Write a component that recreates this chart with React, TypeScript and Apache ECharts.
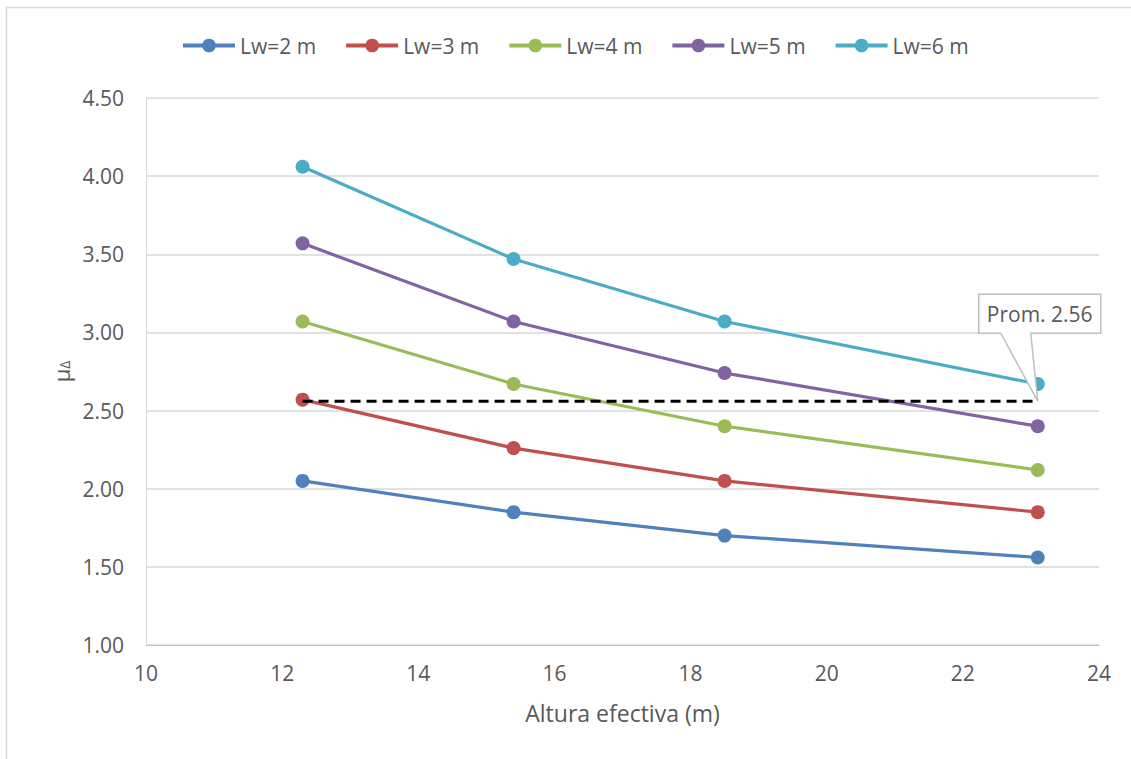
import React, { useEffect, useRef } from "react";
import * as echarts from "echarts";

const xValues = [12.3, 15.4, 18.5, 23.1];
const seriesNames = ["Lw=2 m", "Lw=3 m", "Lw=4 m", "Lw=5 m", "Lw=6 m"];
const lw2 = [2.05, 1.85, 1.7, 1.56];
const lw3 = [2.57, 2.26, 2.05, 1.85];
const lw4 = [3.07, 2.67, 2.4, 2.12];
const lw5 = [3.57, 3.07, 2.74, 2.4];
const lw6 = [4.06, 3.47, 3.07, 2.67];
const seriesValues = [lw2, lw3, lw4, lw5, lw6];
const colors = ["#4f81bd", "#c0504d", "#9bbb59", "#8064a2", "#4bacc6"];
const average = 2.56;
const averageLabel = "Prom. 2.56";
const xAxisName = "Altura efectiva (m)";

const FONT = "'Open Sans', sans-serif";
const TEXT = "#595959";

export default function App() {
  const ref = useRef<HTMLDivElement>(null);
  useEffect(() => {
    document.body.style.margin = "0";
    const chart = echarts.init(ref.current!, null, { renderer: "svg" });
    const series: any[] = seriesValues.map((vals, i) => ({
      name: seriesNames[i],
      type: "line",
      data: xValues.map((x, j) => [x, vals[j]]),
      symbol: "circle",
      symbolSize: 14,
      color: colors[i],
      lineStyle: { width: 3.2, color: colors[i] },
      itemStyle: { color: colors[i] },
      z: 2,
    }));
    series.push({
      name: "Prom",
      type: "line",
      data: [
        [xValues[0], average],
        [xValues[xValues.length - 1], average],
      ],
      symbol: "none",
      lineStyle: { width: 3, color: "#000", type: [10, 6] },
      z: 3,
    });
    const border = {
      type: "rect",
      shape: { x: 6.5, y: 7.5, width: 1200, height: 800 },
      style: { fill: "none", stroke: "#d9d9d9", lineWidth: 1.5 },
      silent: true,
      z: -10,
    };
    chart.setOption({
      animation: false,
      textStyle: { fontFamily: FONT },
      grid: { left: 146, right: 32, top: 98, bottom: 114 },
      legend: {
        top: 30,
        left: 176,
        data: seriesNames,
        itemWidth: 52,
        itemHeight: 17,
        itemGap: 28,
        lineStyle: { width: 4 },
        textStyle: { fontSize: 21, color: TEXT, fontFamily: FONT },
      },
      xAxis: {
        type: "value",
        min: 10,
        max: 24,
        interval: 2,
        name: xAxisName,
        nameLocation: "middle",
        nameGap: 56,
        nameTextStyle: { fontSize: 23, color: TEXT, fontFamily: FONT },
        axisLine: { show: true, lineStyle: { color: "#bfbfbf", width: 1 } },
        axisTick: { show: false },
        axisLabel: { fontSize: 21, color: TEXT, margin: 17, fontFamily: FONT },
        splitLine: { show: false },
      },
      yAxis: {
        type: "value",
        min: 1,
        max: 4.5,
        interval: 0.5,
        name: "{m|μ}{s|Δ}",
        nameLocation: "middle",
        nameRotate: 90,
        nameGap: 72,
        nameTextStyle: {
          fontSize: 22,
          color: TEXT,
          fontFamily: FONT,
          rich: {
            m: { fontSize: 22, color: TEXT, fontFamily: FONT },
            s: { fontSize: 14, color: TEXT, fontFamily: FONT, verticalAlign: "bottom", padding: [7, 0, 0, 0] },
          },
        },
        axisLine: { show: true, lineStyle: { color: "#d9d9d9", width: 1 } },
        axisTick: { show: false },
        axisLabel: {
          fontSize: 21,
          color: TEXT,
          margin: 22,
          fontFamily: FONT,
          formatter: (v: number) => v.toFixed(2),
        },
        splitLine: { show: true, lineStyle: { color: "#d9d9d9", width: 1.5 } },
      },
      series,
      graphic: [border],
    });
    const p = chart.convertToPixel({ gridIndex: 0 }, [xValues[xValues.length - 1], average]) as number[];
    const tx = p[0];
    const ty = p[1];
    const left = tx - 59;
    const right = tx + 63;
    const top = ty - 107;
    const bottom = ty - 68;
    chart.setOption({
      graphic: [
        border,
        {
          type: "polygon",
          shape: {
            points: [
              [left, top],
              [right, top],
              [right, bottom],
              [tx - 7, bottom],
              [tx, ty],
              [tx - 37, bottom],
              [left, bottom],
            ],
          },
          style: { fill: "#ffffff", stroke: "#bfbfbf", lineWidth: 1.5 },
          z: 100,
        },
        {
          type: "text",
          x: (left + right) / 2,
          y: (top + bottom) / 2,
          style: {
            text: averageLabel,
            fill: TEXT,
            font: `21px ${FONT}`,
            align: "center",
            verticalAlign: "middle",
          },
          z: 101,
        },
      ],
    });
    return () => chart.dispose();
  }, []);
  return <div ref={ref} style={{ width: 1131, height: 759 }} />;
}
